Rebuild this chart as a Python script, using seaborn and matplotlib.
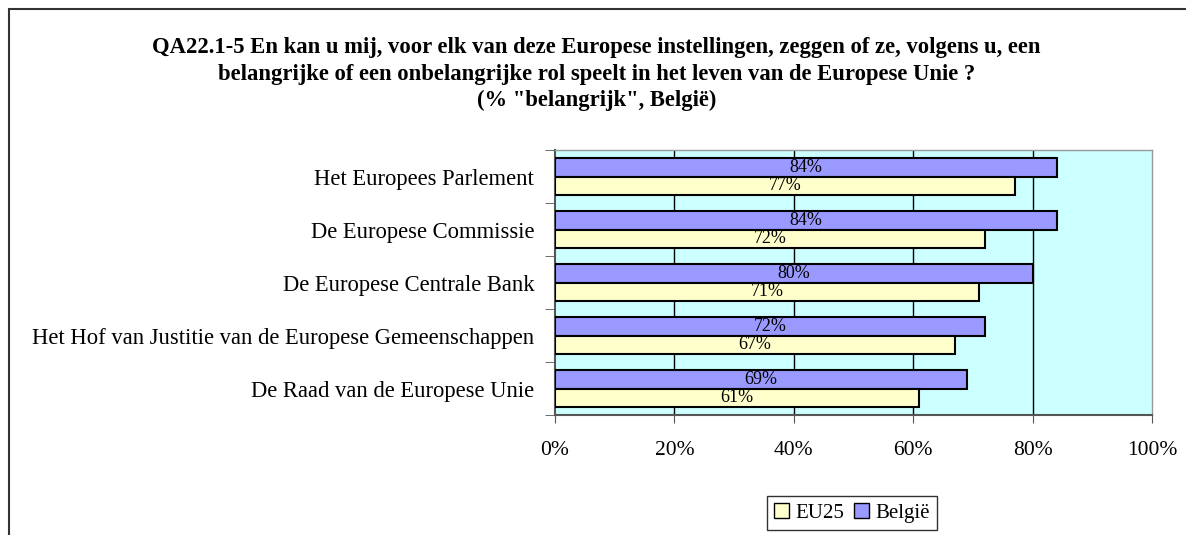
import pandas as pd
import matplotlib.pyplot as plt
import matplotlib.patches as mpatches
import seaborn as sns

# Data
categories = ["Het Europees Parlement", "De Europese Commissie", "De Europese Centrale Bank",
              "Het Hof van Justitie van de Europese Gemeenschappen", "De Raad van de Europese Unie"]
belgie = [84, 84, 80, 72, 69]
eu25 = [77, 72, 71, 67, 61]
xticks = [0, 20, 40, 60, 80, 100]

title = ("QA22.1-5 En kan u mij, voor elk van deze Europese instellingen, zeggen of ze, volgens u, een\n"
         "belangrijke of een onbelangrijke rol speelt in het leven van de Europese Unie ?\n"
         "(% \"belangrijk\", België)")

df = pd.DataFrame({
    "categorie": categories * 2,
    "reeks": ["België"] * len(categories) + ["EU25"] * len(categories),
    "waarde": belgie + eu25,
})

sns.set_style("white")
plt.rcParams['font.family'] = ['Liberation Serif', 'DejaVu Serif']
plt.rcParams['text.color'] = 'black'
plt.rcParams['xtick.color'] = 'black'
plt.rcParams['ytick.color'] = 'black'

colors = {"België": "#9999FF", "EU25": "#FFFFCC"}

fig = plt.figure(figsize=(11.86, 5.35), dpi=100)
ax = fig.add_axes([0.468, 0.2243, 0.5034, 0.4953])
ax.set_facecolor("#CCFFFF")

sns.barplot(data=df, y="categorie", x="waarde", hue="reeks", order=categories,
            hue_order=["België", "EU25"], palette=colors, orient="h", width=0.7,
            edgecolor="black", linewidth=1.5, saturation=1, ax=ax, legend=False, zorder=3)

for cont in ax.containers:
    ax.bar_label(cont, labels=[f"{v:.0f}%" for v in cont.datavalues],
                 label_type="center", fontsize=13, zorder=4)

ax.set_xlim(0, 100)
ax.set_ylim(len(categories) - 0.5, -0.5)
ax.set_xticks(xticks)
ax.set_xticklabels([f"{t}%" for t in xticks], fontsize=15.5)
ax.tick_params(axis="x", pad=13, length=6, direction="out", bottom=True, color="#555555")
ax.set_yticks(range(len(categories)))
ax.set_yticklabels(categories, fontsize=16.3)
ax.tick_params(axis="y", length=0, pad=15)
# minor ticks at category boundaries
ax.set_yticks([i - 0.5 for i in range(len(categories) + 1)], minor=True)
ax.tick_params(axis="y", which="minor", length=7, left=True, color="#555555")
ax.set_xlabel("")
ax.set_ylabel("")

for t in xticks[1:-1]:
    ax.axvline(t, color="black", linewidth=1, zorder=1)

for side in ["top", "right"]:
    ax.spines[side].set_color("#999999")
    ax.spines[side].set_linewidth(1)
for side in ["left", "bottom"]:
    ax.spines[side].set_color("#555555")
    ax.spines[side].set_linewidth(1.5)

fig.text(0.503, 0.93, title, ha="center", va="top", fontsize=16.3, fontweight="bold",
         linespacing=1.32)

handles = [mpatches.Patch(facecolor=colors["EU25"], edgecolor="black", label="EU25"),
           mpatches.Patch(facecolor=colors["België"], edgecolor="black", label="België")]
leg = fig.legend(handles=handles, loc="center", bbox_to_anchor=(852 / 1186, 1 - 513 / 535),
                 ncol=2, fontsize=15, frameon=True, fancybox=False, handlelength=0.7,
                 handleheight=0.7, handletextpad=0.3, columnspacing=0.5, borderpad=0.35)
leg.get_frame().set_edgecolor("black")
leg.get_frame().set_linewidth(1)

# outer chart frame
fig.patches.append(mpatches.Rectangle((9 / 1186, -0.1), 1.2, 1.1 - 9 / 535,
                                      transform=fig.transFigure, fill=False,
                                      edgecolor="#333333", linewidth=1.5))

fig.savefig("out.png", dpi=100)
